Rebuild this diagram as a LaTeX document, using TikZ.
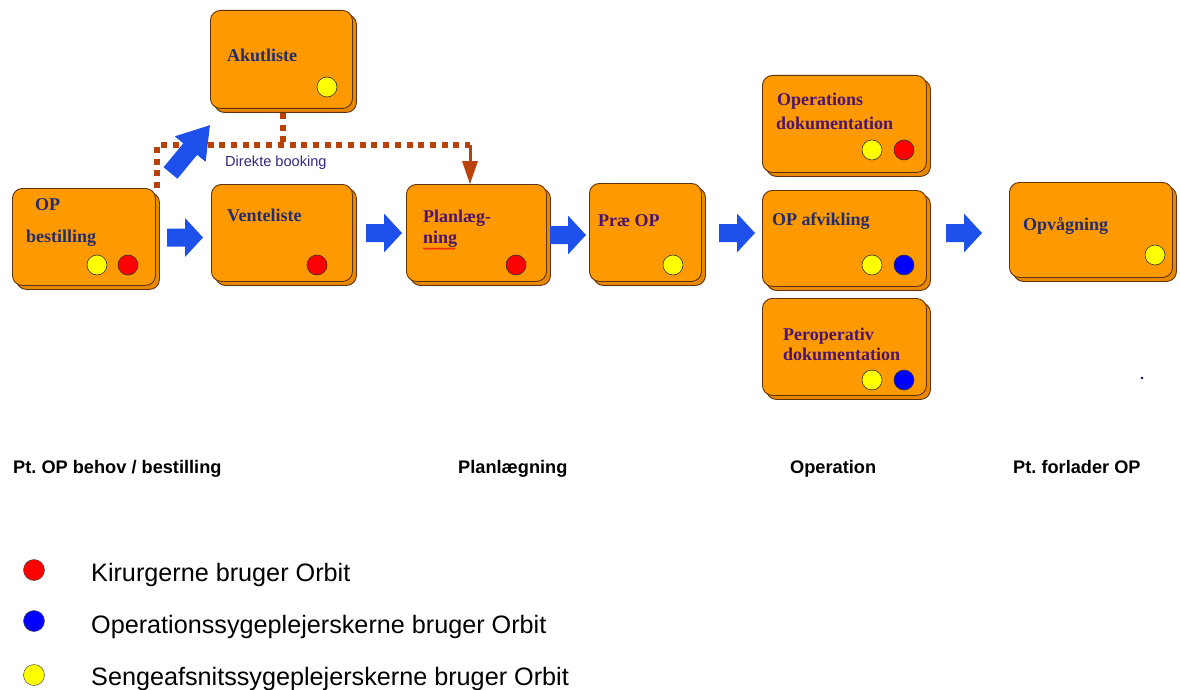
\documentclass[tikz,border=0pt]{standalone}
\usepackage{fontspec}
\setmainfont{Liberation Serif}
\setsansfont{Liberation Sans}
\usetikzlibrary{shadows,decorations.pathmorphing,calc}
\definecolor{cardorange}{RGB}{255,153,0}
\definecolor{cardshadow}{RGB}{232,136,0}
\definecolor{cardborder}{RGB}{95,50,10}
\definecolor{navytxt}{RGB}{35,45,110}
\definecolor{purpletxt}{RGB}{75,20,110}
\definecolor{arrowblue}{RGB}{30,80,235}
\definecolor{dotbrown}{RGB}{185,65,10}
\definecolor{booktxt}{RGB}{50,40,130}
\definecolor{dotyellow}{RGB}{255,255,0}
\definecolor{dotred}{RGB}{255,0,0}
\definecolor{dotblue}{RGB}{0,0,255}
\newcommand{\blockarrow}[6]{%
  \fill[arrowblue, shift={(#1,#2)}, rotate=#3]
    (0,-9) -- (#4-#5,-9) -- (#4-#5,-#6) -- (#4,0) -- (#4-#5,#6) -- (#4-#5,9) -- (0,9) -- cycle;}
\tikzset{
  card/.style={draw=cardborder, fill=cardorange, rounded corners=10pt, line width=0.9pt,
    anchor=north west, inner sep=0pt,
    copy shadow={shadow xshift=4pt, shadow yshift=-4pt, fill=cardshadow, draw=cardborder, line width=0.9pt}},
  boxtxt/.style={anchor=base west, inner sep=0pt, font=\fontsize{18}{20}\selectfont\bfseries},
  dotc/.style={circle, draw=black!80, line width=0.6pt, minimum size=20pt, inner sep=0pt},
  legdot/.style={circle, draw=black!70, line width=0.5pt, minimum size=21pt, inner sep=0pt},
  phase/.style={anchor=base west, inner sep=0pt, font=\sffamily\bfseries\fontsize{18.2}{21}\selectfont},
  legtxt/.style={anchor=base west, inner sep=0pt, font=\sffamily\fontsize{25.2}{28}\selectfont},
  dotline/.style={draw=dotbrown, line width=6pt, dash pattern=on 6pt off 5.7pt},
}
\frenchspacing
\begin{document}
\frenchspacing
\begin{tikzpicture}[x=1pt,y=-1pt]
\useasboundingbox (0,0) rectangle (1180,690);
% cards
\node[card, minimum width=143pt, minimum height=97pt] (opb) at (12,188) {};
\node[card, minimum width=142pt, minimum height=98pt] (akut) at (210,10) {};
\node[card, minimum width=141pt, minimum height=97pt] (vente) at (211,184) {};
\node[card, minimum width=140pt, minimum height=97pt] (plan) at (406,184) {};
\node[card, minimum width=112pt, minimum height=98pt] (prae) at (589,183) {};
\node[card, minimum width=164pt, minimum height=97pt] (opsdok) at (762,75) {};
\node[card, minimum width=164pt, minimum height=96pt] (opafv) at (762,190) {};
\node[card, minimum width=164pt, minimum height=97pt] (perop) at (762,298) {};
\node[card, minimum width=163pt, minimum height=95pt] (opvag) at (1009,182) {};
% card texts
\node[boxtxt, text=navytxt] (t-op) at (35,210) {OP};
\node[boxtxt, text=navytxt] (t-best) at (26,242) {bestilling};
\node[boxtxt, text=navytxt] (t-akut) at (227,61.5) {Akutliste};
\node[boxtxt, text=navytxt] (t-vente) at (227,221) {Venteliste};
\node[boxtxt, text=purpletxt] (t-plan1) at (423,222) {Planlæg-};
\node[boxtxt, text=purpletxt] (t-plan2) at (423,243) {ning};
\node[boxtxt, text=purpletxt] (t-prae) at (598,226) {Præ OP};
\node[boxtxt, text=purpletxt] (t-ops1) at (777,106) {Operations};
\node[boxtxt, text=purpletxt] (t-ops2) at (776,130) {dokumentation};
\node[boxtxt, text=navytxt] (t-afv) at (772,225) {OP afvikling};
\node[boxtxt, text=purpletxt] (t-per1) at (783,340) {Peroperativ};
\node[boxtxt, text=purpletxt] (t-per2) at (783,360) {dokumentation};
\node[boxtxt, text=navytxt] (t-vag) at (1023,230) {Opvågning};
\draw[dotred, decorate, decoration={snake, amplitude=0.8pt, segment length=3pt}, line width=0.6pt] ($(t-plan2.south west)+(0,1.5)$) -- ($(t-plan2.south east)+(-2,1.5)$);
% dots in cards
\node[dotc, fill=dotyellow] (d-akut) at (327,87) {};
\node[dotc, fill=dotyellow] (d-opb1) at (97,265) {};
\node[dotc, fill=dotred] (d-opb2) at (128,265) {};
\node[dotc, fill=dotred] (d-vente) at (317,265) {};
\node[dotc, fill=dotred] (d-plan) at (516,265) {};
\node[dotc, fill=dotyellow] (d-prae) at (673,265) {};
\node[dotc, fill=dotyellow] (d-ops1) at (872,150) {};
\node[dotc, fill=dotred] (d-ops2) at (904,150) {};
\node[dotc, fill=dotyellow] (d-afv1) at (872,265) {};
\node[dotc, fill=dotblue] (d-afv2) at (904,265) {};
\node[dotc, fill=dotyellow] (d-per1) at (872,380) {};
\node[dotc, fill=dotblue] (d-per2) at (904,380) {};
\node[dotc, fill=dotyellow] (d-vag) at (1155,255) {};
% dotted direct booking line
\coordinate (db-start) at (157,188);
\coordinate (db-corner) at (157,145);
\coordinate (db-end) at (470,145);
\coordinate (db-akut) at (283,113);
\coordinate (db-head) at (470,161);
\draw[dotline] (db-start) -- (db-corner) -- (db-end);
\draw[dotline] (db-akut) -- (283,145);
\draw[draw=dotbrown, line width=3pt] (db-end) -- (db-head);
\fill[dotbrown] ($(db-head)+(-8,0)$) -- ($(db-head)+(8,0)$) -- ($(plan.north west)+(64,0)$) -- cycle;
\node[anchor=base west, inner sep=0pt, text=booktxt, font=\sffamily\fontsize{14.6}{16}\selectfont] (t-direkte) at (225,166) {Direkte booking};
% block arrows
\blockarrow{170.5}{173}{50.5}{62}{31}{20}
\blockarrow{167}{237.5}{0}{36}{18}{19.5}
\blockarrow{366}{233}{0}{36}{18}{19.5}
\blockarrow{550}{235}{0}{36}{18}{19.5}
\blockarrow{719}{233}{0}{36}{18}{19.5}
\blockarrow{946}{233}{0}{36}{18}{19.5}
% small dot
\fill[black!70!blue] (1142,378) circle (1.3);
% phase labels
\node[phase] (ph1) at (13,473) {Pt. OP behov / bestilling};
\node[phase] (ph2) at (458,473) {Planlægning};
\node[phase] (ph3) at (790,473) {Operation};
\node[phase] (ph4) at (1013,473) {Pt. forlader OP};
% legend
\node[legdot, fill=dotred] (l1) at (34,570) {};
\node[legdot, fill=dotblue] (l2) at (34,621) {};
\node[legdot, fill=dotyellow] (l3) at (34,675) {};
\node[legtxt] (lt1) at (91,581) {Kirurgerne bruger Orbit};
\node[legtxt] (lt2) at (91,633) {Operationssygeplejerskerne bruger Orbit};
\node[legtxt] (lt3) at (91,685) {Sengeafsnitssygeplejerskerne bruger Orbit};
\end{tikzpicture}
\end{document}
